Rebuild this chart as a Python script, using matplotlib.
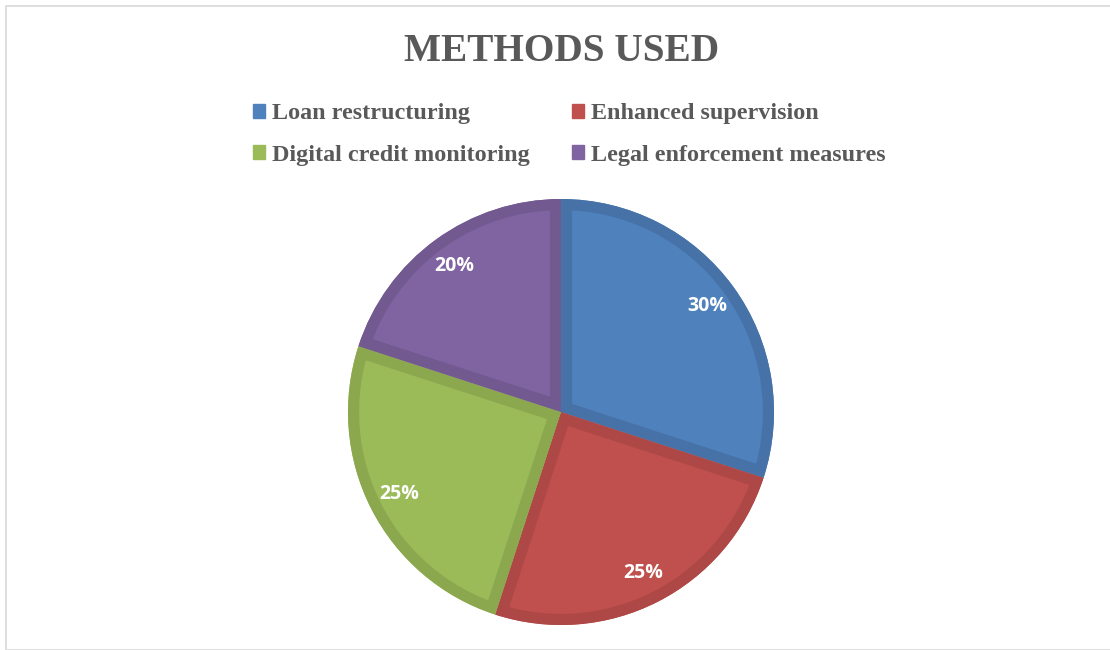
import matplotlib.pyplot as plt
from matplotlib.patches import Rectangle, Wedge

# chart data
labels = ['Loan restructuring', 'Enhanced supervision',
          'Digital credit monitoring', 'Legal enforcement measures']
shares = [30, 25, 25, 20]
colors = ['#4F81BD', '#C0504D', '#9BBB59', '#8064A2']
edge_colors = ['#4672A8', '#AD4846', '#8BA84F', '#725A91']

fig = plt.figure(figsize=(11.1, 6.5), dpi=100)

# thin frame like the office chart area
fig.patches.append(Rectangle((6 / 1110, 0), 1.2, (650 - 6) / 650,
                             transform=fig.transFigure, fill=False,
                             edgecolor='#D9D9D9', linewidth=1.2))

fig.text(0.506, 0.921, 'METHODS USED', ha='center', va='center',
         family='Liberation Serif', fontweight='bold', fontsize=28.3,
         color='#595959')

# pie axes: centre (561, 412) px, radius 213 px
r = 213
ax = fig.add_axes([(561 - r) / 1110, (650 - 412 - r) / 650, 2 * r / 1110, 2 * r / 650])
wedges, texts, autotexts = ax.pie(
    shares, colors=colors, startangle=90, counterclock=False,
    autopct='%d%%', pctdistance=0.85,
    textprops=dict(color='white', fontsize=14, fontweight='bold', family='Open Sans'))

# darker band just inside each slice edge
for w, ec in zip(wedges, edge_colors):
    band = Wedge(w.center, w.r, w.theta1, w.theta2, facecolor='none',
                 edgecolor=ec, linewidth=16, zorder=w.get_zorder() + 0.1)
    ax.add_patch(band)
    band.set_clip_path(w)
for t in autotexts:
    t.set_zorder(5)
ax.set_aspect('equal')
ax.set_xlim(-1, 1)
ax.set_ylim(-1, 1)

# legend in two rows, two columns (matplotlib fills column-wise)
order = [0, 2, 1, 3]
handles = [Rectangle((0, 0), 1, 1, color=colors[i]) for i in order]
leg = fig.legend(handles, [labels[i] for i in order], ncol=2, loc='center',
                 bbox_to_anchor=(0.513, 0.793), frameon=False,
                 prop=dict(family='Liberation Serif', weight='bold', size=17.4),
                 labelcolor='#595959', handlelength=0.5, handleheight=0.5,
                 handletextpad=0.3, columnspacing=1.73, labelspacing=0.85)

fig.savefig('out.png', dpi=100)
